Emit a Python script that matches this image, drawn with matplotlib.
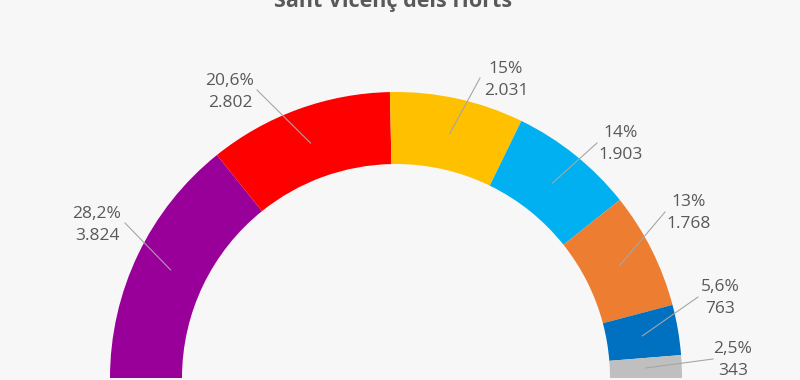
"""Half-donut of vote share, Sant Vicenç dels Horts."""
import matplotlib

matplotlib.use("Agg")  # headless
import matplotlib.pyplot as plt
import numpy as np

TITLE = "Sant Vicenç dels Horts"
PCT_LABELS = ["28,2%", "20,6%", "15%", "14%", "13%", "5,6%", "2,5%"]
VOTES = [3824, 2802, 2031, 1903, 1768, 763, 343]
COLORS = ["#990099", "#FF0000", "#FFC000", "#00B0F0", "#ED7D31", "#0070C0", "#BFBFBF"]

# Layout, in pixels of the 800x380 canvas (y measured from the top).
W, H = 800, 380
CX, CY = 396, 378
R_OUT, R_IN = 286, 214
LABEL_XY = [(97, 225), (230, 92), (506, 80), (621, 144), (689, 213), (720, 298), (733, 360)]
LEADER_FROM = [(125, 223), (257, 90), (480, 78), (597, 143), (665, 212), (698, 297), (713, 359)]

BG = "#F7F7F7"
TEXT = "#595959"
FONT = ["Open Sans", "DejaVu Sans"]


def vote_text(v):
    return f"{v:,}".replace(",", ".")


fig = plt.figure(figsize=(W / 100, H / 100), dpi=100, facecolor=BG)
ax = fig.add_axes([0, 0, 1, 1])
ax.set_facecolor(BG)

# the hidden second half of the pie turns the donut into a semicircle
total = sum(VOTES)
ax.pie(
    VOTES + [total],
    colors=COLORS + ["none"],
    startangle=180,
    counterclock=False,
    radius=R_OUT,
    center=(CX, H - CY),
    wedgeprops=dict(width=R_OUT - R_IN, linewidth=0),
)

r_mid = (R_OUT + R_IN) / 2
before = np.cumsum([0] + VOTES[:-1])
for i, v in enumerate(VOTES):
    ang = np.deg2rad(180 - (before[i] + v / 2) / total * 180)
    ex, ey = CX + r_mid * np.cos(ang), (H - CY) + r_mid * np.sin(ang)
    sx, sy = LEADER_FROM[i]
    ax.plot([sx, ex], [H - sy, ey], color="#A6A6A6", linewidth=0.8, zorder=3)
    lx, ly = LABEL_XY[i]
    ax.text(lx, H - ly, PCT_LABELS[i] + "\n" + vote_text(v), ha="center", va="center",
            fontsize=12.5, color=TEXT, family=FONT, linespacing=1.45)

ax.text(393, H - 7, TITLE, ha="center", va="baseline", fontsize=15.5, fontweight="bold",
        color=TEXT, family=FONT)

ax.set_xlim(0, W)
ax.set_ylim(0, H)
ax.set_aspect("equal")
ax.axis("off")

fig.savefig("out.png", dpi=100, facecolor=BG)
